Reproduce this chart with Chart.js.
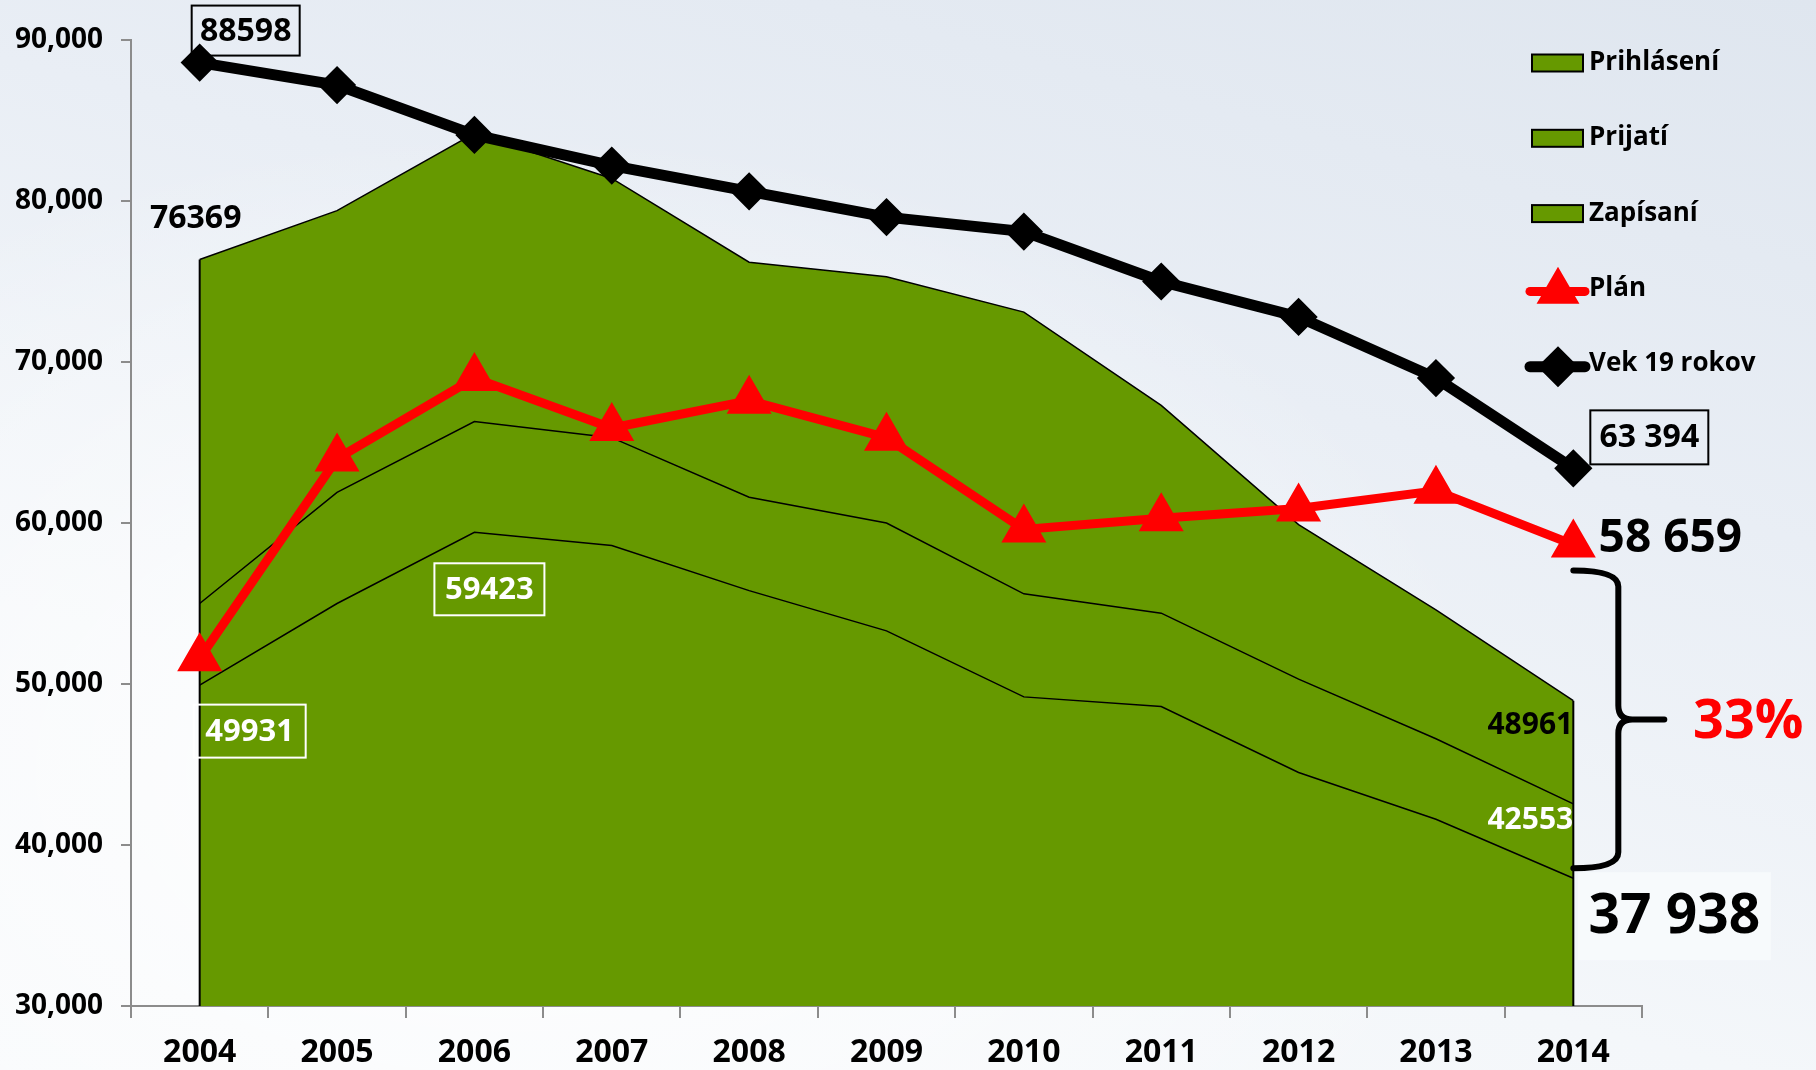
<!DOCTYPE html>
<html>
<head>
<meta charset="utf-8">
<script src="https://cdn.jsdelivr.net/npm/chart.js@4.4.0/dist/chart.umd.min.js"></script>
<style>
html, body { margin: 0; padding: 0; }
body {
    width: 1816px; height: 1070px; overflow: hidden;
    background:
        radial-gradient(ellipse 55% 60% at 28% 72%, rgba(255,255,255,0.95) 0%, rgba(255,255,255,0) 100%),
        linear-gradient(195deg, #dfe6ef 0%, #e9eef5 35%, #f4f7fa 70%, #f8fafc 100%);
}
#chart { display: block; }
</style>
</head>
<body>
<canvas id="chart" width="1816" height="1070"></canvas>
<script>
"use strict";
var years = ['2004', '2005', '2006', '2007', '2008', '2009', '2010', '2011', '2012', '2013', '2014'];
var prihlaseni = [76369, 79400, 84200, 81400, 76200, 75300, 73100, 67300, 59900, 54600, 48961];
var prijati = [55000, 61900, 66300, 65300, 61600, 60000, 55600, 54400, 50300, 46600, 42553];
var zapisani = [49931, 55000, 59423, 58600, 55800, 53300, 49200, 48600, 44500, 41600, 37938];
var plan = [51600, 64000, 69000, 65900, 67600, 65300, 59600, 60300, 60900, 62000, 58659];
var vek19 = [88598, 87200, 84100, 82200, 80600, 79000, 78100, 75000, 72800, 69000, 63394];
var seriesNames = ['Prihlásení', 'Prijatí', 'Zapísaní', 'Plán', 'Vek 19 rokov'];
var yMin = 30000, yMax = 90000, yStep = 10000;
var dropLabel = '33%';

const FONT = '"Open Sans", "DejaVu Sans", sans-serif';
const GREEN = '#669900';

function font(size) { return 'bold ' + size + 'px ' + FONT; }
function spaced(v) { return v.toLocaleString('en-US').replace(',', ' '); }

function label(ctx, text, x, y, size, color, box) {
    if (box && box.bg) {
        ctx.fillStyle = box.bg;
        ctx.fillRect(x - box.w / 2, y - box.h / 2, box.w, box.h);
    }
    if (box && box.border) {
        ctx.strokeStyle = box.border;
        ctx.lineWidth = 2;
        ctx.strokeRect(x - box.w / 2, y - box.h / 2, box.w, box.h);
    }
    ctx.font = font(size);
    ctx.fillStyle = color;
    ctx.textAlign = 'center';
    ctx.textBaseline = 'middle';
    ctx.fillText(text, x, y + 1);
}

const decorations = {
    id: 'decorations',
    afterDatasetDraw(chart, args) {
        // outline the left and right edges of the green area
        if (args.index !== 2) return;
        const ctx = chart.ctx, x = chart.scales.x, y = chart.scales.y;
        const last = years.length - 1;
        ctx.save();
        ctx.strokeStyle = '#000';
        ctx.lineWidth = 2;
        ctx.beginPath();
        ctx.moveTo(x.getPixelForValue(0), y.getPixelForValue(prihlaseni[0]));
        ctx.lineTo(x.getPixelForValue(0), y.bottom);
        ctx.moveTo(x.getPixelForValue(last), y.getPixelForValue(prihlaseni[last]));
        ctx.lineTo(x.getPixelForValue(last), y.bottom);
        ctx.stroke();
        ctx.restore();
    },
    afterDatasetsDraw(chart) {
        const ctx = chart.ctx, x = chart.scales.x, y = chart.scales.y;
        const last = years.length - 1;
        const x0 = x.getPixelForValue(0), xl = x.getPixelForValue(last), x2 = x.getPixelForValue(2);
        ctx.save();

        label(ctx, String(vek19[0]), x0 + 46, y.getPixelForValue(vek19[0]) - 32, 32, '#000',
            { w: 108, h: 50, border: '#000' });
        label(ctx, String(prihlaseni[0]), x0 - 4, y.getPixelForValue(prihlaseni[0]) - 42, 32, '#000');
        label(ctx, spaced(vek19[last]), xl + 76, y.getPixelForValue(vek19[last]) - 31, 32, '#000',
            { w: 118, h: 54, border: '#000' });
        label(ctx, spaced(plan[last]), xl + 97, y.getPixelForValue(plan[last]) - 7, 46, '#000');
        label(ctx, String(zapisani[2]), x2 + 15, y.getPixelForValue(zapisani[2]) + 57, 31, '#fff',
            { w: 110, h: 52, border: '#fff' });
        label(ctx, String(zapisani[0]), x0 + 50, y.getPixelForValue(zapisani[0]) + 46, 31, '#fff',
            { w: 112, h: 53, border: '#fff' });
        label(ctx, String(prihlaseni[last]), xl - 43, y.getPixelForValue(prihlaseni[last]) + 24, 30, '#000');
        label(ctx, String(prijati[last]), xl - 43, y.getPixelForValue(prijati[last]) + 16, 30, '#fff');
        label(ctx, spaced(zapisani[last]), xl + 101, y.getPixelForValue(zapisani[last]) + 38, 55, '#000',
            { w: 193, h: 88, bg: '#f7fafc' });

        // brace from plan to enrolled in the last year
        const top = y.getPixelForValue(plan[last]) + 26;
        const bot = y.getPixelForValue(zapisani[last]) - 10;
        const mid = (top + bot) / 2;
        const xv = xl + 45, xt = xl + 91;
        ctx.strokeStyle = '#000';
        ctx.lineWidth = 6;
        ctx.lineCap = 'round';
        ctx.beginPath();
        ctx.moveTo(xl, top);
        ctx.quadraticCurveTo(xv, top, xv, top + 16);
        ctx.lineTo(xv, mid - 14);
        ctx.quadraticCurveTo(xv, mid, xv + 14, mid);
        ctx.lineTo(xt, mid);
        ctx.moveTo(xv + 14, mid);
        ctx.quadraticCurveTo(xv, mid, xv, mid + 14);
        ctx.lineTo(xv, bot - 16);
        ctx.quadraticCurveTo(xv, bot, xl, bot);
        ctx.stroke();
        label(ctx, dropLabel, xt + 84, mid + 2, 54, '#ff0000');

        ctx.restore();
    },
    afterDraw(chart) {
        // legend sits inside the plot, top right
        const ctx = chart.ctx;
        ctx.save();
        chart.data.datasets.forEach(function (ds, i) {
            const lx = 1532, ly = 62.5 + i * 75.3;
            if (ds.fill) {
                ctx.fillStyle = ds.backgroundColor;
                ctx.fillRect(lx, ly - 8, 51, 17);
                ctx.strokeStyle = '#000';
                ctx.lineWidth = 2;
                ctx.strokeRect(lx, ly - 8, 51, 17);
            } else {
                ctx.strokeStyle = ds.borderColor;
                ctx.lineWidth = ds.borderWidth;
                ctx.lineCap = 'round';
                ctx.beginPath();
                ctx.moveTo(lx - 2, ly + 3);
                ctx.lineTo(lx + 53, ly + 3);
                ctx.stroke();
                ctx.fillStyle = ds.pointBackgroundColor;
                ctx.strokeStyle = ds.pointBorderColor;
                Chart.helpers.drawPoint(ctx, {
                    pointStyle: ds.pointStyle,
                    radius: ds.pointRadius * 0.75,
                    borderWidth: ds.pointBorderWidth,
                    rotation: 0
                }, lx + 26, ly + 3);
            }
            ctx.font = font(26);
            ctx.fillStyle = '#000';
            ctx.textAlign = 'left';
            ctx.textBaseline = 'middle';
            ctx.fillText(ds.label, lx + 57, ly);
        });
        ctx.restore();
    }
};

function areaSet(name, values, order) {
    return {
        label: name,
        data: values,
        fill: 'start',
        backgroundColor: GREEN,
        borderColor: '#000',
        borderWidth: 1.5,
        pointRadius: 0,
        tension: 0,
        order: order
    };
}

const ctx = document.getElementById('chart').getContext('2d');
const chart = new Chart(ctx, {
    type: 'line',
    data: {
        labels: years,
        datasets: [
            areaSet(seriesNames[0], prihlaseni, 4),
            areaSet(seriesNames[1], prijati, 3),
            areaSet(seriesNames[2], zapisani, 2),
            {
                label: seriesNames[3],
                data: plan,
                fill: false,
                borderColor: '#ff0000',
                borderWidth: 9,
                pointStyle: 'triangle',
                pointRadius: 21,
                pointBorderWidth: 5,
                pointBackgroundColor: '#ff0000',
                pointBorderColor: '#ff0000',
                tension: 0,
                order: 1
            },
            {
                label: seriesNames[4],
                data: vek19,
                fill: false,
                borderColor: '#000',
                borderWidth: 11,
                pointStyle: 'rectRot',
                pointRadius: 17,
                pointBorderWidth: 3,
                pointBackgroundColor: '#000',
                pointBorderColor: '#000',
                tension: 0,
                order: 0
            }
        ]
    },
    options: {
        responsive: false,
        animation: false,
        devicePixelRatio: 1,
        layout: { padding: { left: 0, right: 174, top: 40, bottom: 0 } },
        plugins: {
            legend: { display: false },
            tooltip: { enabled: false }
        },
        scales: {
            x: {
                offset: true,
                border: { color: '#8c8c8c', width: 2 },
                grid: { offset: true, drawOnChartArea: false, tickLength: 12, color: '#8c8c8c', lineWidth: 2 },
                ticks: { color: '#000', font: { family: FONT, size: 32, weight: 'bold' }, padding: 16 },
                afterFit: function (scale) { scale.height = 64; }
            },
            y: {
                min: yMin,
                max: yMax,
                border: { color: '#8c8c8c', width: 2 },
                grid: { drawOnChartArea: false, tickLength: 10, color: '#8c8c8c', lineWidth: 2 },
                ticks: {
                    stepSize: yStep,
                    color: '#000',
                    padding: 18,
                    font: { family: FONT, size: 28, weight: 'bold' },
                    callback: function (v) { return v.toLocaleString('en-US'); }
                },
                afterFit: function (scale) { scale.width = 131; }
            }
        }
    },
    plugins: [decorations]
});
</script>
</body>
</html>
